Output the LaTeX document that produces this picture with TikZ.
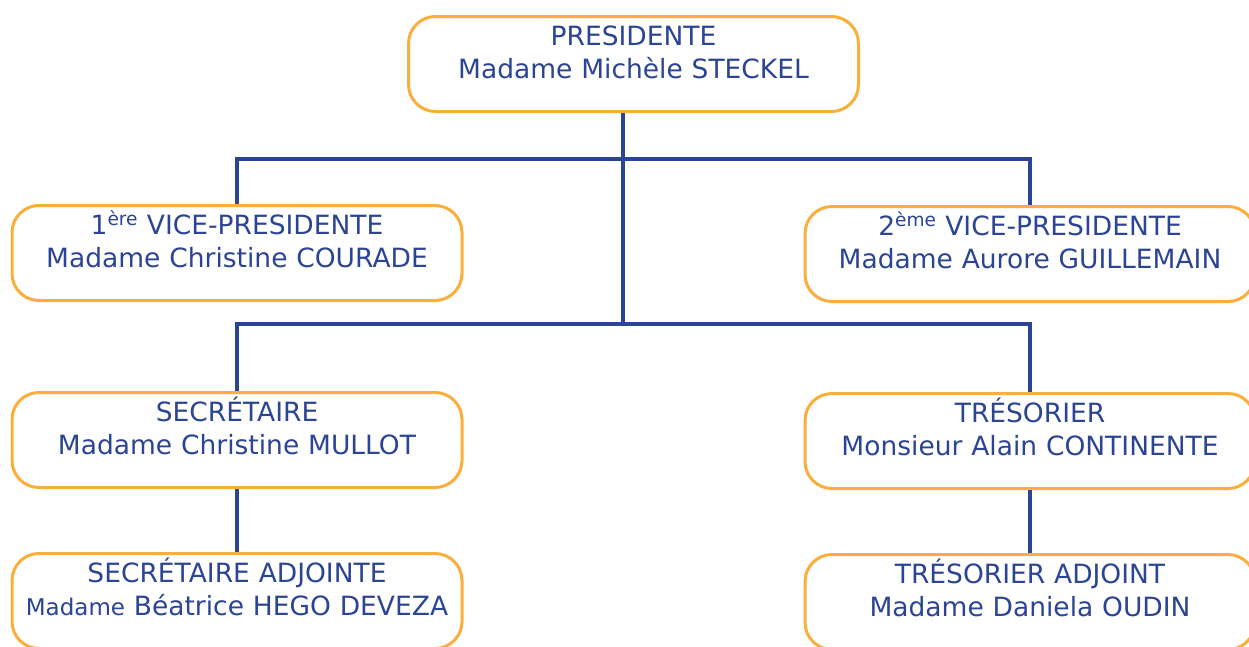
\documentclass[tikz,border=0pt]{standalone}
\usepackage{fontspec}
\setmainfont{DejaVu Sans}
\usepackage{tikz}
\definecolor{bleu}{RGB}{43,68,148}
\definecolor{orange}{RGB}{250,174,60}

\begin{document}
\begin{tikzpicture}[x=1pt, y=-1pt,
    poste/.style={draw=orange, line width=3pt, rounded corners=27pt, fill=white,
        text=bleu, inner sep=0pt, text width=450pt, align=center,
        text height=29pt, text depth=66pt, anchor=north,
        font=\fontsize{26.5}{33}\selectfont},
    lien/.style={draw=bleu, line width=3.2pt}]
    \useasboundingbox (0,0) rectangle (1249,646);
    % 方框
    \node[poste] (pres) at (633.5,15) {PRESIDENTE\\Madame Michèle STECKEL};
    \node[poste] (vp1) at (237,204) {1\textsuperscript{ère} VICE-PRESIDENTE\\Madame Christine COURADE};
    \node[poste] (vp2) at (1030,205) {2\textsuperscript{ème} VICE-PRESIDENTE\\Madame Aurore GUILLEMAIN};
    \node[poste] (sec) at (237,391) {SECRÉTAIRE\\Madame Christine MULLOT};
    \node[poste] (tres) at (1030,392) {TRÉSORIER\\Monsieur Alain CONTINENTE};
    \node[poste] (secadj) at (237,552) {SECRÉTAIRE ADJOINTE\\{\fontsize{23}{33}\selectfont Madame} Béatrice HEGO DEVEZA};
    \node[poste] (tresadj) at (1030,553) {TRÉSORIER ADJOINT\\Madame Daniela OUDIN};

    % 连线
    \coordinate (nA) at (623,159);
    \coordinate (nB) at (623,324);
    \draw[lien] ([xshift=-10.5pt]pres.south) -- (nB);
    \draw[lien] (vp1.north) |- (nA) -| (vp2.north);
    \draw[lien] (sec.north) |- (nB) -| (tres.north);
    \draw[lien] (sec.south) -- (secadj.north);
    \draw[lien] (tres.south) -- (tresadj.north);
\end{tikzpicture}
\end{document}
